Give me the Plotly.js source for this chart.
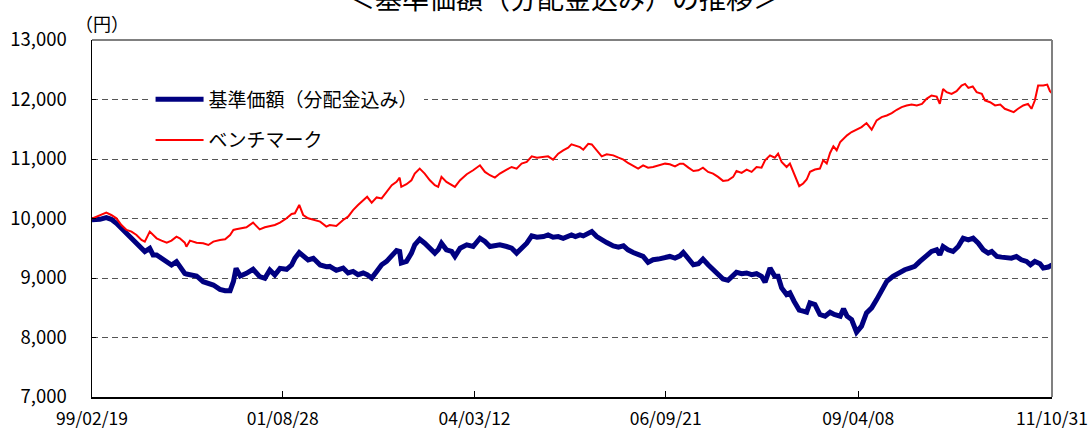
<!DOCTYPE html>
<html>
<head>
<meta charset="utf-8">
<script src="https://cdn.plot.ly/plotly-3.0.1.min.js"></script>
<style>
html,body{margin:0;padding:0;background:#fff;}
#chart{width:1090px;height:430px;}
</style>
</head>
<body>
<div id="chart"></div>
<script>
// ---- data ----
const sharedDates = [
'1999-02-19','1999-03-29','1999-04-29','1999-05-23','1999-06-17','1999-07-11','1999-08-05','1999-08-29','1999-09-22','1999-10-16','1999-11-01','1999-11-25','1999-12-11','1999-12-28',
'2000-01-21','2000-02-15','2000-03-09','2000-04-02','2000-04-18','2000-05-12','2000-05-20','2000-06-06','2000-07-08','2000-08-09','2000-09-03','2000-09-27','2000-10-29','2000-11-23','2000-12-17',
'2001-01-02','2001-01-15','2001-02-04','2001-03-06','2001-04-07','2001-05-09','2001-06-03','2001-06-27','2001-07-21','2001-08-15','2001-09-16','2001-10-10','2001-10-26','2001-11-16','2001-12-05','2001-12-29',
'2002-01-23','2002-02-25','2002-03-27','2002-04-12','2002-05-14','2002-06-16','2002-07-10','2002-08-03','2002-08-27','2002-09-21','2002-10-10','2002-11-01','2002-11-25','2002-12-19',
'2003-01-12','2003-02-06','2003-03-01','2003-03-16','2003-03-24','2003-04-18','2003-05-12','2003-05-28','2003-06-21','2003-07-15','2003-08-09','2003-09-02','2003-09-18','2003-10-04','2003-10-28','2003-11-22','2003-12-08',
'2004-01-02','2004-02-03','2004-03-05','2004-04-07','2004-05-01','2004-05-25','2004-06-18','2004-07-12','2004-08-14','2004-09-07','2004-10-01','2004-10-25','2004-11-19','2004-12-13',
'2005-01-07','2005-02-08','2005-03-02','2005-03-26','2005-04-20','2005-05-14','2005-06-07','2005-06-23','2005-07-12','2005-08-03','2005-08-19','2005-09-12','2005-09-29','2005-10-23','2005-11-16','2005-12-10',
'2006-01-11','2006-02-05','2006-03-01','2006-03-23','2006-04-17','2006-05-11','2006-06-04','2006-06-28','2006-07-22','2006-08-16','2006-09-18','2006-10-11','2006-11-05','2006-11-29','2006-12-15',
'2007-01-09','2007-02-02','2007-02-26','2007-03-20','2007-04-14','2007-05-08','2007-06-01','2007-06-25','2007-07-19','2007-08-13','2007-08-29','2007-09-23','2007-10-17','2007-11-10','2007-12-04','2007-12-28',
'2008-01-14','2008-02-07','2008-03-01','2008-03-17','2008-04-03','2008-04-27','2008-05-13','2008-06-02','2008-06-15','2008-06-27','2008-07-16','2008-08-02'
];
const navShared = [
9980,9986,10014,9986,9919,9835,9723,9667,9555,9471,9443,9499,9387,9387,
9331,9275,9218,9275,9190,9078,9067,9050,9034,8938,8910,8882,8810,8787,8787,
8938,9162,9034,9078,9146,9022,8994,9134,9050,9162,9146,9218,9331,9426,9359,9303,
9331,9218,9190,9195,9128,9167,9084,9111,9056,9084,9056,9000,9111,9223,
9279,9390,9462,9446,9251,9279,9418,9557,9652,9585,9501,9418,9474,9585,9474,9446,9362,
9501,9557,9529,9668,9613,9529,9540,9557,9529,9501,9418,9501,9585,9708,
9686,9697,9724,9686,9697,9668,9708,9724,9697,9724,9708,9741,9780,9697,9641,9596,
9540,9518,9540,9474,9429,9390,9362,9262,9306,9318,9334,9362,9334,9373,9429,
9334,9223,9240,9318,9223,9139,9056,8983,8961,9056,9095,9072,9084,9056,9072,9028,
8928,9167,9028,9028,8833,8721,8749,8610,8526,8460,8443,8426
];
const benchShared = [
10000,10059,10098,10059,10003,9890,9807,9779,9723,9639,9611,9779,9723,9667,
9628,9594,9628,9695,9667,9594,9527,9628,9594,9583,9555,9611,9639,9650,9723,
9807,9818,9835,9852,9930,9818,9852,9874,9891,9930,10003,10076,10087,10227,10059,10003,
9975,9947,9863,9891,9875,9975,10031,10142,10226,10309,10365,10265,10354,10337,
10448,10560,10616,10688,10532,10577,10643,10755,10838,10755,10643,10560,10532,10699,10616,10560,10532,
10643,10744,10811,10894,10783,10727,10688,10755,10822,10866,10838,10922,10950,11045,
11022,11033,11045,10989,11089,11145,11189,11245,11228,11200,11156,11256,11245,11145,11045,11078,
11061,11022,10989,10933,10877,10838,10894,10855,10866,10894,10922,10911,10877,10922,10922,
10855,10799,10811,10855,10783,10755,10699,10632,10643,10699,10799,10766,10822,10783,10866,10855,
10978,11061,11022,11089,10950,10866,10922,10755,10643,10543,10588,10655
];
const navTailDates = [
'2008-08-18','2008-09-11','2008-10-05','2008-10-30','2008-11-23','2008-12-13',
'2009-01-11','2009-01-27','2009-02-13','2009-03-07','2009-03-31','2009-04-24','2009-05-18','2009-06-12','2009-07-06','2009-07-30','2009-08-24','2009-09-23','2009-10-17','2009-11-19','2009-12-13',
'2010-01-06','2010-01-31','2010-03-04','2010-03-28','2010-04-22','2010-05-07','2010-05-23','2010-06-16','2010-07-10','2010-08-04','2010-08-28','2010-09-22','2010-10-15','2010-11-09','2010-12-03','2010-12-27',
'2011-01-13','2011-02-07','2011-03-01','2011-03-25','2011-04-18','2011-05-12','2011-06-05','2011-06-30','2011-07-19','2011-08-09','2011-09-03','2011-09-19','2011-10-13','2011-10-31'
];
const navTail = [
8580,8553,8386,8358,8425,8386,
8358,8481,8358,8302,8090,8191,8414,8498,8637,8804,8944,9027,9083,9139,9167,
9195,9278,9362,9446,9474,9390,9530,9474,9446,9530,9669,9641,9669,9585,9474,9418,
9446,9362,9351,9334,9334,9362,9306,9278,9222,9278,9239,9167,9184,9222
];
const benchTailDates = [
'2008-08-18','2008-09-11','2008-10-05','2008-10-21','2008-11-07','2008-11-23','2008-12-09','2008-12-25',
'2009-01-11','2009-01-27','2009-02-13','2009-03-07','2009-03-31','2009-04-24','2009-05-18','2009-06-12','2009-07-06','2009-07-30','2009-08-24','2009-09-17','2009-10-11','2009-11-04','2009-11-28','2009-12-22',
'2010-01-16','2010-02-10','2010-03-04','2010-03-28','2010-04-22','2010-05-07','2010-05-23','2010-06-09','2010-07-03','2010-07-27','2010-08-20','2010-09-06','2010-09-22','2010-10-13','2010-11-01','2010-11-26','2010-12-11',
'2011-01-05','2011-01-29','2011-02-23','2011-03-17','2011-04-10','2011-04-29','2011-05-20','2011-06-14','2011-07-07','2011-07-24','2011-08-09','2011-08-25','2011-09-19','2011-10-08','2011-10-21','2011-10-31'
];
const benchTail = [
10784,10823,10840,10979,10924,11102,11214,11147,
11286,11342,11398,11453,11492,11537,11604,11492,11649,11704,11732,11771,11827,11872,11900,11916,
11900,11927,12011,12067,12050,11927,12178,12123,12095,12139,12234,12262,12195,12218,12123,12095,11983,
11955,11900,11916,11844,11816,11788,11844,11900,11927,11844,11983,12234,12234,12251,12139,12106
];
const seriesNames = ['基準価額（分配金込み）', 'ベンチマーク'];
const xTickVals = ['1999-02-19','2001-08-28','2004-03-12','2006-09-21','2009-04-08','2011-10-31'];
const xTickText = ['99/02/19','01/08/28','04/03/12','06/09/21','09/04/08','11/10/31'];
const yTickVals = [7000,8000,9000,10000,11000,12000,13000];
const yTickText = ['7,000','8,000','9,000','10,000','11,000','12,000','13,000'];
const chartTitle = '＜基準価額（分配金込み）の推移＞';
const unitLabel = '（円）';

// ---- chart ----
const FONT = '"Noto Sans CJK JP", "Noto Sans", sans-serif';
const traces = [
  {
    x: sharedDates.concat(navTailDates),
    y: navShared.concat(navTail),
    name: seriesNames[0],
    type: 'scatter', mode: 'lines',
    line: {color: '#000080', width: 5},
    legendgroup: 'a'
  },
  {
    x: sharedDates.concat(benchTailDates),
    y: benchShared.concat(benchTail),
    name: seriesNames[1],
    type: 'scatter', mode: 'lines',
    line: {color: '#ff0000', width: 2},
    legendgroup: 'b'
  }
];

const layout = {
  width: 1090, height: 430,
  margin: {l: 92, r: 38, t: 39.5, b: 32.5, pad: 0},
  paper_bgcolor: '#fff', plot_bgcolor: '#fff',
  font: {family: FONT, color: '#000'},
  showlegend: true,
  legend: {
    x: 0.061, y: 0.887, xanchor: 'left', yanchor: 'top',
    bgcolor: '#fff', borderwidth: 0,
    font: {family: FONT, size: 19, color: '#000'},
    itemwidth: 48, tracegroupgap: 13, traceorder: 'grouped'
  },
  xaxis: {
    type: 'date',
    range: [xTickVals[0], xTickVals[xTickVals.length - 1]],
    tickmode: 'array', tickvals: xTickVals, ticktext: xTickText,
    ticks: 'inside', ticklen: 6, tickwidth: 1, tickcolor: '#000',
    showline: true, linecolor: '#000', linewidth: 1.5,
    showgrid: false, zeroline: false,
    tickfont: {family: FONT, size: 17.5, color: '#000'},
    ticklabelstandoff: 5,
    ticklabeloverflow: 'allow'
  },
  yaxis: {
    range: [7000, 13000],
    tickmode: 'array', tickvals: yTickVals, ticktext: yTickText,
    ticks: 'inside', ticklen: 4, tickwidth: 1, tickcolor: '#000',
    showline: true, linecolor: '#000', linewidth: 1.5,
    showgrid: true, gridcolor: '#555', gridwidth: 1, griddash: '6px,4px',
    zeroline: false,
    tickfont: {family: FONT, size: 18.5, color: '#000'},
    ticklabelstandoff: 20
  },
  shapes: [
    {type: 'line', xref: 'paper', yref: 'paper', x0: 0, x1: 1, y0: 1, y1: 1, line: {color: '#808080', width: 2}, layer: 'above'},
    {type: 'line', xref: 'paper', yref: 'paper', x0: 1, x1: 1, y0: 0, y1: 1, line: {color: '#808080', width: 2}, layer: 'above'}
  ],
  annotations: [
    {text: chartTitle, xref: 'paper', yref: 'paper', x: 0.4917, y: 1.1187, xanchor: 'center', yanchor: 'middle', showarrow: false, font: {family: FONT, size: 27, color: '#000'}},
    {text: unitLabel, xref: 'paper', yref: 'paper', x: 0.0099, y: 1.049, xanchor: 'center', yanchor: 'middle', showarrow: false, font: {family: FONT, size: 18, color: '#000'}}
  ]
};

Plotly.newPlot('chart', traces, layout, {displayModeBar: false, staticPlot: true});
</script>
</body>
</html>
